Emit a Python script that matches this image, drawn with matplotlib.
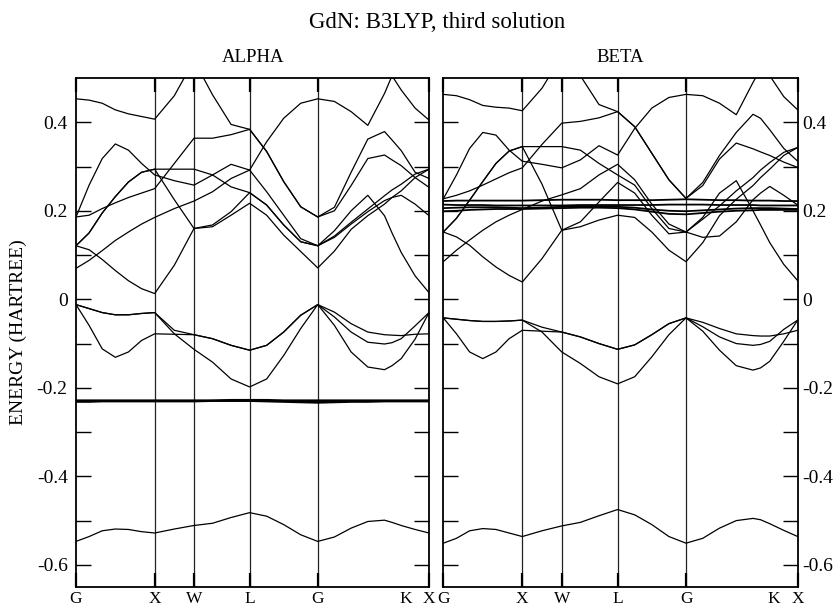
import matplotlib
matplotlib.use("Agg")
import matplotlib.pyplot as plt
from matplotlib.ticker import FixedLocator

plt.rcParams['font.family'] = ['Liberation Serif', 'DejaVu Serif']
plt.rcParams['axes.unicode_minus'] = False

# ---------------- k-path ----------------
path_labels = ['G', 'X', 'W', 'L', 'G', 'K', 'X']
node_k = [0.0, 1.0, 1.5, 2.2071, 3.0731, 4.1338, 4.4874]
k_label_K = 4.19
seg_fracs = [[0, 1/6, 2/6, 3/6, 4/6, 5/6, 1],
             [0.5, 1],
             [1/3, 2/3, 1],
             [0.25, 0.5, 0.75, 1],
             [0.2, 0.4, 0.6, 0.8, 0.89, 1],
             [0.5, 1]]

# ---------------- ALPHA (Hartree) ----------------
alpha_cond = [
    [0.453, 0.450, 0.443, 0.428, 0.419, 0.413, 0.407, 0.460, 0.540, 0.462, 0.395, 0.384,
     0.334, 0.266, 0.209, 0.186, 0.208, 0.287, 0.362, 0.379, 0.360, 0.336, 0.287, 0.273],
    [0.186, 0.190, 0.205, 0.218, 0.230, 0.240, 0.250, 0.307, 0.364, 0.364, 0.372, 0.384,
     0.334, 0.266, 0.209, 0.186, 0.200, 0.257, 0.318, 0.326, 0.315, 0.302, 0.275, 0.253],
    [0.186, 0.258, 0.318, 0.351, 0.337, 0.307, 0.281, 0.268, 0.258, 0.281, 0.305, 0.292,
     0.356, 0.409, 0.443, 0.453, 0.447, 0.424, 0.393, 0.465, 0.505, 0.473, 0.432, 0.405],
    [0.121, 0.150, 0.195, 0.232, 0.265, 0.287, 0.294, 0.294, 0.294, 0.281, 0.254, 0.241,
     0.213, 0.168, 0.130, 0.121, 0.143, 0.174, 0.204, 0.234, 0.247, 0.260, 0.283, 0.294],
    [0.121, 0.150, 0.195, 0.232, 0.265, 0.287, 0.294, 0.225, 0.160, 0.168, 0.198, 0.241,
     0.213, 0.168, 0.130, 0.121, 0.140, 0.170, 0.198, 0.223, 0.230, 0.235, 0.215, 0.189],
    [0.121, 0.112, 0.090, 0.065, 0.042, 0.024, 0.013, 0.077, 0.160, 0.164, 0.190, 0.217,
     0.190, 0.145, 0.108, 0.071, 0.109, 0.158, 0.189, 0.215, 0.230, 0.245, 0.275, 0.294],
    [0.070, 0.088, 0.110, 0.133, 0.152, 0.170, 0.185, 0.205, 0.222, 0.243, 0.273, 0.292,
     0.243, 0.190, 0.137, 0.121, 0.155, 0.200, 0.235, 0.189, 0.150, 0.106, 0.053, 0.015],
]
alpha_val = [
    [-0.012, -0.021, -0.030, -0.035, -0.035, -0.032, -0.030, -0.070, -0.080, -0.089, -0.104, -0.115,
     -0.104, -0.074, -0.036, -0.012, -0.029, -0.055, -0.074, -0.080, -0.081, -0.082, -0.079, -0.078],
    [-0.012, -0.021, -0.030, -0.035, -0.035, -0.032, -0.030, -0.078, -0.113, -0.142, -0.180, -0.198,
     -0.180, -0.127, -0.066, -0.012, -0.040, -0.074, -0.097, -0.101, -0.098, -0.089, -0.060, -0.030],
    [-0.012, -0.059, -0.112, -0.131, -0.119, -0.093, -0.078, -0.079, -0.080, -0.089, -0.104, -0.115,
     -0.104, -0.074, -0.036, -0.012, -0.059, -0.119, -0.153, -0.159, -0.150, -0.134, -0.090, -0.030],
]
alpha_f = [
    [-0.228, -0.228, -0.228, -0.228, -0.228, -0.228, -0.228, -0.228, -0.228, -0.228, -0.227, -0.227,
     -0.227, -0.228, -0.228, -0.228, -0.228, -0.228, -0.228, -0.228, -0.228, -0.228, -0.228, -0.228],
    [-0.230, -0.230, -0.230, -0.230, -0.230, -0.230, -0.230, -0.230, -0.230, -0.229, -0.229, -0.229,
     -0.229, -0.230, -0.231, -0.231, -0.231, -0.230, -0.230, -0.230, -0.230, -0.230, -0.230, -0.230],
    [-0.232, -0.232, -0.231, -0.231, -0.231, -0.231, -0.231, -0.231, -0.231, -0.230, -0.230, -0.230,
     -0.231, -0.232, -0.233, -0.234, -0.233, -0.232, -0.232, -0.231, -0.231, -0.231, -0.231, -0.231],
]
alpha_s = [-0.547, -0.536, -0.523, -0.519, -0.520, -0.525, -0.528, -0.519, -0.511, -0.506, -0.493, -0.482,
           -0.490, -0.509, -0.532, -0.547, -0.537, -0.517, -0.502, -0.499, -0.504, -0.511, -0.520, -0.528]

# ---------------- BETA (Hartree) ----------------
beta_cond = [
    [0.463, 0.460, 0.451, 0.438, 0.434, 0.432, 0.426, 0.477, 0.550, 0.505, 0.440, 0.424,
     0.390, 0.330, 0.270, 0.228, 0.264, 0.325, 0.377, 0.418, 0.409, 0.383, 0.341, 0.312],
    [0.227, 0.235, 0.245, 0.258, 0.272, 0.286, 0.297, 0.350, 0.398, 0.402, 0.410, 0.424,
     0.390, 0.330, 0.270, 0.228, 0.257, 0.317, 0.353, 0.340, 0.333, 0.325, 0.310, 0.298],
    [0.227, 0.281, 0.341, 0.377, 0.371, 0.337, 0.312, 0.305, 0.297, 0.315, 0.347, 0.326,
     0.386, 0.432, 0.456, 0.463, 0.460, 0.443, 0.417, 0.490, 0.520, 0.505, 0.458, 0.428],
    [0.152, 0.183, 0.224, 0.266, 0.307, 0.335, 0.345, 0.345, 0.345, 0.337, 0.307, 0.281,
     0.258, 0.205, 0.160, 0.152, 0.181, 0.211, 0.245, 0.275, 0.292, 0.309, 0.332, 0.343],
    [0.152, 0.183, 0.224, 0.266, 0.307, 0.335, 0.345, 0.260, 0.156, 0.175, 0.220, 0.264,
     0.240, 0.190, 0.148, 0.152, 0.140, 0.143, 0.175, 0.225, 0.240, 0.255, 0.235, 0.213],
    [0.152, 0.141, 0.122, 0.096, 0.073, 0.054, 0.039, 0.092, 0.156, 0.164, 0.179, 0.190,
     0.185, 0.152, 0.111, 0.085, 0.128, 0.189, 0.226, 0.257, 0.275, 0.294, 0.325, 0.343],
    [0.085, 0.111, 0.134, 0.156, 0.175, 0.190, 0.203, 0.222, 0.236, 0.250, 0.281, 0.305,
     0.270, 0.215, 0.170, 0.152, 0.185, 0.240, 0.268, 0.200, 0.168, 0.128, 0.079, 0.042],
]
beta_f = [
    [0.222, 0.223, 0.223, 0.223, 0.223, 0.223, 0.223, 0.224, 0.225, 0.225, 0.225, 0.224,
     0.224, 0.224, 0.225, 0.226, 0.225, 0.224, 0.224, 0.223, 0.223, 0.223, 0.222, 0.222],
    [0.214, 0.213, 0.213, 0.213, 0.212, 0.212, 0.212, 0.212, 0.212, 0.213, 0.213, 0.213,
     0.213, 0.213, 0.214, 0.214, 0.214, 0.213, 0.213, 0.213, 0.212, 0.212, 0.212, 0.212],
    [0.206, 0.207, 0.208, 0.208, 0.208, 0.207, 0.206, 0.207, 0.209, 0.210, 0.210, 0.209,
     0.207, 0.203, 0.200, 0.199, 0.201, 0.203, 0.205, 0.206, 0.206, 0.206, 0.205, 0.204],
    [0.199, 0.200, 0.202, 0.203, 0.204, 0.204, 0.204, 0.205, 0.206, 0.207, 0.207, 0.206,
     0.203, 0.198, 0.193, 0.192, 0.195, 0.198, 0.200, 0.201, 0.202, 0.202, 0.202, 0.202],
]
beta_val = [
    [-0.042, -0.045, -0.048, -0.050, -0.050, -0.049, -0.047, -0.063, -0.074, -0.085, -0.100, -0.113,
     -0.103, -0.080, -0.055, -0.042, -0.052, -0.066, -0.078, -0.082, -0.083, -0.083, -0.078, -0.070],
    [-0.042, -0.045, -0.048, -0.050, -0.050, -0.049, -0.047, -0.074, -0.119, -0.145, -0.175, -0.191,
     -0.175, -0.130, -0.080, -0.042, -0.062, -0.085, -0.100, -0.104, -0.102, -0.095, -0.068, -0.047],
    [-0.042, -0.078, -0.119, -0.134, -0.119, -0.089, -0.070, -0.072, -0.074, -0.085, -0.100, -0.113,
     -0.103, -0.080, -0.055, -0.042, -0.072, -0.115, -0.150, -0.160, -0.155, -0.140, -0.095, -0.047],
]
beta_s = [-0.551, -0.540, -0.523, -0.518, -0.520, -0.528, -0.536, -0.523, -0.512, -0.504, -0.489, -0.475,
          -0.487, -0.509, -0.536, -0.551, -0.540, -0.517, -0.500, -0.495, -0.498, -0.507, -0.522, -0.536]

y_major = [-0.6, -0.4, -0.2, 0.0, 0.2, 0.4]
y_major_labels = ['-0.6', '-0.4', '-0.2', '0', '0.2', '0.4']
y_minor = [-0.5, -0.3, -0.1, 0.1, 0.3]

# ---------------- k grid from path ----------------
k_grid = []
for i, fr in enumerate(seg_fracs):
    a, b = node_k[i], node_k[i + 1]
    for f in fr:
        if i > 0 and f == 0:
            continue
        k_grid.append(a + f * (b - a))

W, H = 838, 608
fig = plt.figure(figsize=(W / 100, H / 100), dpi=100)
ax1 = fig.add_axes([76 / W, 21 / H, 353 / W, 509 / H])
ax2 = fig.add_axes([443.3 / W, 21 / H, 354.4 / W, 509 / H])

def draw(ax, cond, val, fb, sb, f_lw, side):
    for x in node_k[1:5]:
        ax.axvline(x, color='#222222', lw=0.9, zorder=1)
    for b in cond:
        ax.plot(k_grid, b, color='black', lw=0.9, zorder=2)
    for b in val:
        ax.plot(k_grid, b, color='black', lw=0.9, zorder=2)
    for b in fb:
        ax.plot(k_grid, b, color='black', lw=f_lw, zorder=2)
    ax.plot(k_grid, sb, color='black', lw=0.9, zorder=2)
    ax.set_xlim(node_k[0], node_k[-1])
    ax.set_ylim(-0.65, 0.5)
    for s in ax.spines.values():
        s.set_linewidth(1.3)
    ax.yaxis.set_major_locator(FixedLocator(y_major))
    ax.yaxis.set_minor_locator(FixedLocator(y_minor))
    ax.set_yticklabels(y_major_labels)
    ax.tick_params(axis='y', which='both', direction='in', length=10.5, width=1.0,
                   left=True, right=True, labelsize=14,
                   labelleft=(side == 'left'), labelright=(side == 'right'),
                   pad=(6 if side == 'left' else 3))
    xt = list(node_k)
    xt[5] = k_label_K
    ax.set_xticks(xt)
    ax.set_xticklabels(path_labels)
    ax.tick_params(axis='x', direction='in', length=10, width=1.6, top=True, bottom=True,
                   labelsize=12.5, pad=3)
    t = ax.xaxis.get_major_ticks()[5]
    t.tick1line.set_visible(False)
    t.tick2line.set_visible(False)

draw(ax1, alpha_cond, alpha_val, alpha_f, alpha_s, 1.2, 'left')
draw(ax2, beta_cond, beta_val, beta_f, beta_s, 1.3, 'right')

fig.text(437 / W, 1 - 22 / H, 'GdN: B3LYP, third solution', ha='center', va='center', fontsize=16.5)
fig.text(253 / W, 1 - 58 / H, 'ALPHA', ha='center', va='center', fontsize=13.5)
fig.text(620 / W, 1 - 58 / H, 'BETA', ha='center', va='center', fontsize=13.5)
fig.text(18 / W, 1 - 332 / H, 'ENERGY (HARTREE)', ha='center', va='center', rotation=90, fontsize=14)

fig.savefig('out.png', dpi=100)
